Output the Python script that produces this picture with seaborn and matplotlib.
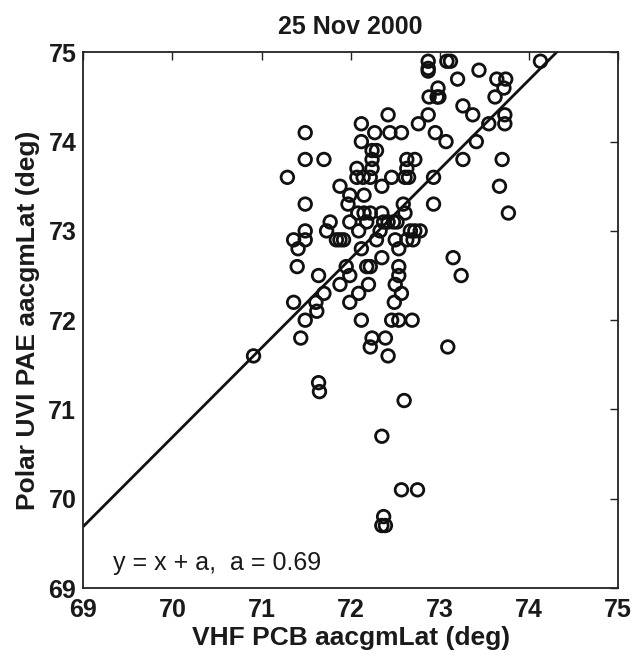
import numpy as np
import pandas as pd
import matplotlib
matplotlib.use("Agg")
import matplotlib.pyplot as plt
import seaborn as sns

# ---- data ----
vhf_lat = [
    71.49, 71.49, 71.70, 71.29, 72.42, 72.12, 72.27, 72.44, 72.57, 72.76,
    72.87, 72.88, 72.87, 72.87, 72.87, 72.12, 72.24, 72.29, 72.24, 72.63,
    72.72, 72.63, 72.07, 72.24, 72.07, 72.14, 72.22, 72.46, 72.61, 72.65,
    73.08, 73.12, 73.44, 73.20, 73.64, 73.74, 73.72, 73.62, 74.13, 72.98,
    72.97, 72.99, 73.26, 73.37, 73.73, 73.73, 73.55, 72.95, 73.07, 73.41,
    73.26, 73.70, 72.93, 73.67, 72.93, 73.77, 72.59, 72.61, 72.67, 72.72,
    72.78, 72.35, 71.88, 71.99, 72.15, 71.97, 71.49, 72.08, 72.15, 72.22,
    72.35, 71.77, 71.99, 72.18, 72.37, 72.42, 72.48, 72.52, 71.49, 71.73,
    72.09, 72.33, 71.36, 71.49, 71.84, 71.88, 71.92, 72.29, 72.50, 72.63,
    72.70, 71.41, 72.12, 72.54, 72.35, 73.15, 71.95, 72.18, 72.22, 72.54,
    71.40, 71.64, 71.99, 72.54, 73.24, 71.88, 72.20, 72.50, 71.70, 72.09,
    72.57, 71.36, 71.61, 71.99, 72.49, 71.62, 71.49, 72.12, 72.46, 72.54,
    72.69, 71.44, 72.24, 72.39, 72.22, 73.09, 72.42, 70.91, 71.64, 71.65,
    72.60, 72.35, 72.57, 72.75, 72.37, 72.35, 72.39,
]
uvi_lat = [
    74.1, 73.8, 73.8, 73.6, 74.3, 74.2, 74.1, 74.1, 74.1, 74.2,
    74.3, 74.5, 74.9, 74.82, 74.79, 74.0, 73.9, 73.9, 73.8, 73.8,
    73.8, 73.7, 73.7, 73.7, 73.6, 73.6, 73.6, 73.6, 73.6, 73.6,
    74.9, 74.9, 74.8, 74.7, 74.7, 74.7, 74.6, 74.5, 74.9, 74.6,
    74.5, 74.5, 74.4, 74.3, 74.3, 74.2, 74.2, 74.1, 74.0, 74.0,
    73.8, 73.8, 73.6, 73.5, 73.3, 73.2, 73.3, 73.2, 73.0, 73.0,
    73.0, 73.5, 73.5, 73.4, 73.4, 73.3, 73.3, 73.2, 73.2, 73.2,
    73.2, 73.1, 73.1, 73.1, 73.1, 73.1, 73.1, 73.1, 73.0, 73.0,
    73.0, 73.0, 72.9, 72.9, 72.9, 72.9, 72.9, 72.9, 72.9, 72.9,
    72.9, 72.8, 72.8, 72.8, 72.7, 72.7, 72.6, 72.6, 72.6, 72.6,
    72.6, 72.5, 72.5, 72.5, 72.5, 72.4, 72.4, 72.4, 72.3, 72.3,
    72.3, 72.2, 72.2, 72.2, 72.2, 72.1, 72.0, 72.0, 72.0, 72.0,
    72.0, 71.8, 71.8, 71.8, 71.7, 71.7, 71.6, 71.6, 71.3, 71.2,
    71.1, 70.7, 70.1, 70.1, 69.8, 69.7, 69.7,
]
offset_a = 0.69
axis_ticks = [69, 70, 71, 72, 73, 74, 75]
title_text = "25 Nov 2000"
xlabel_text = "VHF PCB aacgmLat (deg)"
ylabel_text = "Polar UVI PAE aacgmLat (deg)"

df = pd.DataFrame({"vhf": vhf_lat, "uvi": uvi_lat})
lim = (axis_ticks[0], axis_ticks[-1])
fit = pd.DataFrame({"x": list(lim)})
fit["y"] = fit["x"] + offset_a

sns.set_theme(style="white")
plt.rcParams["font.family"] = ["Liberation Sans", "DejaVu Sans"]

fig = plt.figure(figsize=(6.36, 6.59), dpi=100)
ax = fig.add_axes([0.131, 0.1077, 0.8407, 0.8129])

sns.scatterplot(data=df, x="vhf", y="uvi", ax=ax, marker="o", s=82,
                facecolor="none", edgecolor="#111111", linewidth=2.0,
                legend=False, zorder=3)
sns.lineplot(data=fit, x="x", y="y", ax=ax, color="#111111", linewidth=2.0,
             legend=False, zorder=2)

ax.set_xlim(*lim)
ax.set_ylim(*lim)
ax.set_xticks(axis_ticks)
ax.set_yticks(axis_ticks)
ax.tick_params(direction="in", length=6, width=1.0, color="#222222",
               top=True, right=True, labelsize=18)
ax.tick_params(axis="x", pad=7)
ax.tick_params(axis="y", pad=5)
for lab in ax.get_xticklabels() + ax.get_yticklabels():
    lab.set_fontweight("bold")
    lab.set_color("#1a1a1a")
for sp in ax.spines.values():
    sp.set_linewidth(1.3)
    sp.set_color("#222222")

ax.set_xlabel(xlabel_text, fontsize=19, fontweight="bold", color="#1a1a1a", labelpad=3)
ax.set_ylabel(ylabel_text, fontsize=19, fontweight="bold", color="#1a1a1a", labelpad=6)
ax.set_title(title_text, fontsize=18, fontweight="bold", color="#1a1a1a", pad=13)
ax.text(69.33, 69.2, "y = x + a,  a = 0.69", fontsize=18, color="#1a1a1a",
        ha="left", va="baseline")

fig.savefig("out.png", dpi=100)
